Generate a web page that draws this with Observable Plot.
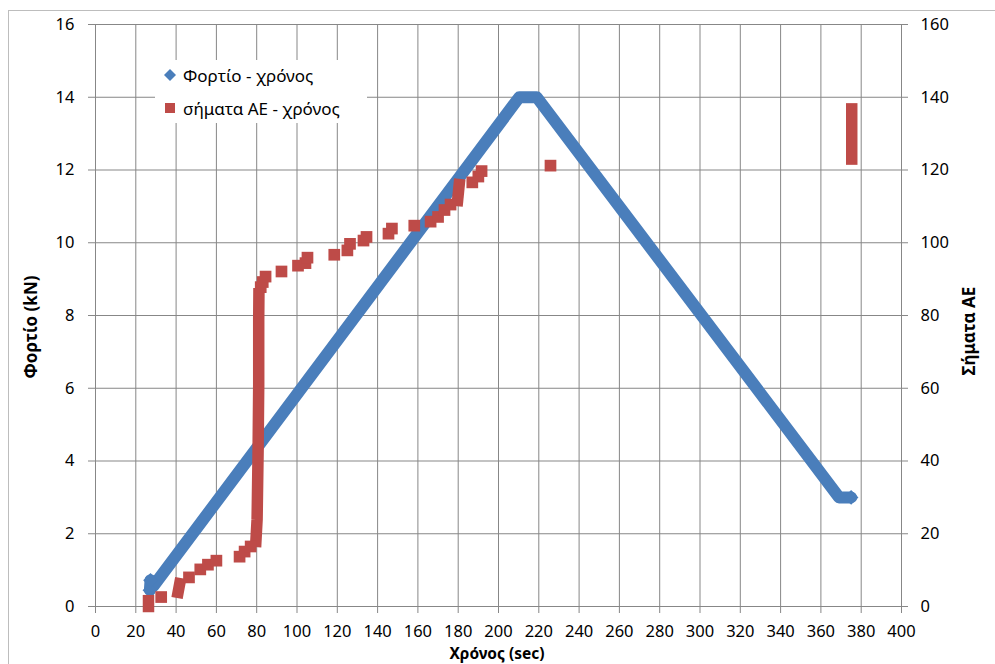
<!DOCTYPE html>
<html>
<head>
<meta charset="utf-8">
<script src="https://cdn.jsdelivr.net/npm/d3@7"></script>
<script src="https://cdn.jsdelivr.net/npm/@observablehq/plot@0.6"></script>
<style>
  body { margin: 0; background: #fff; }
  #wrap { position: relative; width: 995px; height: 664px; overflow: hidden; font-family: "Noto Sans", sans-serif; color: #000; }
  #frame { position: absolute; left: 8px; top: 10px; width: 1100px; height: 800px; border: 1px solid #bdbdbd; }
  #chart { position: absolute; left: 0; top: 0; }
  #legend { position: absolute; left: 155px; top: 60px; width: 212px; height: 63px; background: #fff; }
  .row { position: absolute; left: 8px; height: 20px; display: flex; align-items: center; font-size: 17px; white-space: nowrap; }
  .row svg { margin-right: 6px; }
  .title { position: absolute; font-weight: bold; font-size: 17px; line-height: 16px; white-space: nowrap; transform: translate(-50%, -50%); }
  .rot { transform: translate(-50%, -50%) rotate(-90deg); }
</style>
</head>
<body>
<div id="wrap">
  <div id="frame"></div>
  <div id="chart"></div>
  <div id="legend"></div>
  <div class="title" style="left:497px; top:653px; font-size:15.5px;">Χρόνος (sec)</div>
  <div class="title rot" style="left:31px; top:327px;">Φορτίο (kN)</div>
  <div class="title rot" style="left:969px; top:331px;">Σήματα AE</div>
</div>
<script>
// Load series (left axis, kN): vertices of the load–time record
const loadTime = [27, 27.3, 29, 210.3, 219, 369, 375];
const loadKN   = [0.45, 0.72, 0.58, 14, 14, 3, 3];

// Individual AE hits (right axis, cumulative count)
const hitTime  = [32.6, 46.4, 52, 55.8, 60, 71.5, 74, 77, 82, 83, 84.4, 92.3, 100.5, 104.2, 105.2,
                  118.5, 125, 126.3, 133, 134.5, 145.4, 147.1, 158.2, 166.3, 170, 173.2, 176.2,
                  187, 190, 191.6, 225.8];
const hitCount = [2.6, 8.0, 10.2, 11.5, 12.6, 13.7, 15.1, 16.5, 87.8, 89.2, 90.7, 92.1, 93.7, 94.4, 95.9,
                  96.7, 97.9, 99.7, 100.6, 101.6, 102.5, 103.9, 104.7, 105.8, 107.1, 109, 110.5,
                  116.6, 118.2, 119.7, 121.2];

// AE bursts: runs of hits recorded within a fraction of a second
const burstId    = ["a", "a", "b", "b", "c", "c", "c", "c", "c", "c", "e", "e", "d", "d"];
const burstTime  = [26.3, 26.3, 41, 41.8, 79.6, 80.2, 80.7, 81, 81, 81.1, 179.7, 180.5, 375.3, 375.3];
const burstCount = [0, 1.6, 3.9, 6.3, 17.9, 24, 43, 61, 79, 86, 111.6, 116, 123, 136.8];

// Axis ticks
const timeTicks = d3.range(0, 401, 20);
const loadTicks = d3.range(0, 17, 2);
const aeFactor = 10; // right axis = left axis × 10

const BLUE = "#4A7EBB";
const RED = "#BE4B48";
const GRID = "#878787";

const load = loadTime.map((t, i) => ({t, f: loadKN[i]}));
const hits = hitTime.map((t, i) => ({t, n: hitCount[i]}));
const bursts = burstTime.map((t, i) => ({id: burstId[i], t, n: burstCount[i]}));
const loadEnds = [load[0], load[1], load[load.length - 1]];

const chart = Plot.plot({
  width: 995,
  height: 664,
  marginLeft: 95,
  marginRight: 94,
  marginTop: 24,
  marginBottom: 58,
  style: {fontFamily: "'Noto Sans', sans-serif", fontSize: "16.5px", color: "#000", background: "transparent"},
  x: {domain: [0, 400]},
  y: {domain: [0, 16]},
  marks: [
    Plot.gridX(timeTicks, {stroke: GRID, strokeOpacity: 1}),
    Plot.gridY(loadTicks, {stroke: GRID, strokeOpacity: 1}),
    Plot.axisX(timeTicks, {tickSize: 7, tickPadding: 12, stroke: GRID, fill: "#000", label: null}),
    Plot.axisY(loadTicks, {anchor: "left", tickSize: 7, tickPadding: 14, stroke: GRID, fill: "#000", label: null}),
    Plot.axisY(loadTicks, {anchor: "right", tickSize: 6, tickPadding: 13, stroke: GRID, fill: "#000", label: null,
                           tickFormat: d => d * aeFactor}),
    // load vs time
    Plot.line(load, {x: "t", y: "f", stroke: BLUE, strokeWidth: 12, strokeLinejoin: "round"}),
    Plot.dot(loadEnds, {x: "t", y: "f", symbol: "diamond2", r: 6.6, fill: BLUE}),
    // AE hits vs time
    Plot.line(bursts, {x: "t", y: d => d.n / aeFactor, z: "id", stroke: RED, strokeWidth: 11.5, strokeLinecap: "square"}),
    Plot.dot(hits, {x: "t", y: d => d.n / aeFactor, symbol: "square", r: 6.6, fill: RED})
  ]
});
document.getElementById("chart").appendChild(chart);

// Legend
const legend = document.getElementById("legend");
const entries = [
  {label: "Φορτίο - χρόνος", color: BLUE, shape: "diamond", top: 5},
  {label: "σήματα AE - χρόνος", color: RED, shape: "square", top: 38}
];
for (const e of entries) {
  const row = document.createElement("div");
  row.className = "row";
  row.style.top = e.top + "px";
  const sym = e.shape === "diamond"
    ? `<polygon points="7,1 13,7 7,13 1,7" fill="${e.color}"/>`
    : `<rect x="2" y="2" width="10" height="10" fill="${e.color}"/>`;
  row.innerHTML = `<svg width="14" height="14">${sym}</svg><span>${e.label}</span>`;
  legend.appendChild(row);
}
</script>
</body>
</html>
